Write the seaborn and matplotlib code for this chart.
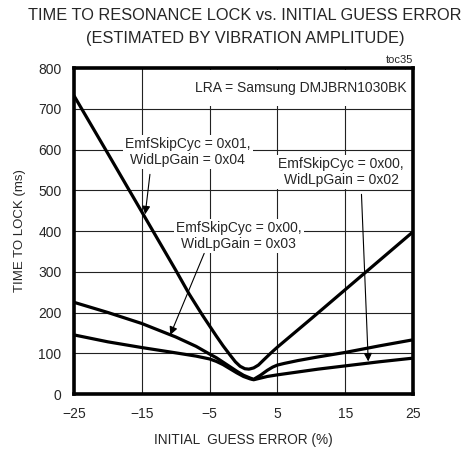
import numpy as np
import pandas as pd
import seaborn as sns
import matplotlib.pyplot as plt

# curve data (initial guess error %, time to lock ms)
x_g04 = [-25, -20, -15, -10, -8, -6, -4, -3, -2, -1.2, -0.5, 0.2, 0.8, 1.5, 2.2, 3, 4, 5, 10, 15, 20, 25]
y_g04 = [732, 590, 447, 304, 245, 192, 142, 118, 96, 79, 68, 62, 61, 64, 71, 84, 100, 115, 185, 256, 327, 398]

x_g03 = [-25, -20, -15, -10, -7, -5, -4, -3, -2, -1, 0, 1, 1.5, 2.5, 3.5, 4.3, 5, 6, 8, 11, 15, 20, 25]
y_g03 = [225, 200, 173, 140, 117, 98, 89, 78, 67, 56, 46, 39, 36, 46, 58, 66, 71, 75, 82, 91, 102, 118, 133]

x_g02 = [-25, -20, -15, -10, -7, -5, -4, -3, -2, -1, 0, 1, 1.5, 2.5, 3.5, 5, 8, 11, 15, 20, 25]
y_g02 = [145, 128, 114, 101, 93, 86, 80, 72, 62, 52, 43, 37, 35, 39, 43, 47, 54, 61, 69, 79, 88]

x_ticks = [-25, -15, -5, 5, 15, 25]
y_ticks = [0, 100, 200, 300, 400, 500, 600, 700, 800]

df = pd.concat([
    pd.DataFrame({'err': x_g04, 'time': y_g04, 'setting': 'g04'}),
    pd.DataFrame({'err': x_g03, 'time': y_g03, 'setting': 'g03'}),
    pd.DataFrame({'err': x_g02, 'time': y_g02, 'setting': 'g02'}),
])

sns.set_style('white')
plt.rcParams['font.family'] = ['Liberation Sans', 'DejaVu Sans']

fig = plt.figure(figsize=(4.76, 4.51), dpi=100)
ax = fig.add_axes([74 / 476, 1 - 394 / 451, 339 / 476, 326 / 451])

sns.lineplot(data=df, x='err', y='time', hue='setting', units='setting', estimator=None,
             sort=False, palette=['black'] * 3, legend=False, lw=2.3, ax=ax, zorder=4)

ax.set_xlim(-25, 25)
ax.set_ylim(0, 800)
ax.set_xticks(x_ticks)
ax.set_yticks(y_ticks)
ax.grid(True, color='#222222', lw=0.8, zorder=0)
ax.set_axisbelow(True)
ax.tick_params(length=0, labelsize=10, pad=9)
for s in ax.spines.values():
    s.set_linewidth(2.6)
    s.set_color('black')
    s.set_zorder(6)

ax.set_xlabel('INITIAL  GUESS ERROR (%)', fontsize=9.8, labelpad=9)
ax.set_ylabel('TIME TO LOCK (ms)', fontsize=9.5, labelpad=9)

fig.text(0.515, 1 - 15 / 451, 'TIME TO RESONANCE LOCK vs. INITIAL GUESS ERROR',
         ha='center', va='center', fontsize=11.8)
fig.text(0.515, 1 - 38 / 451, '(ESTIMATED BY VIBRATION AMPLITUDE)',
         ha='center', va='center', fontsize=11.8)

ax.text(25, 808, 'toc35', ha='right', va='bottom', fontsize=8)

box = dict(facecolor='white', edgecolor='none', pad=1.5)
ax.text(24.0, 751, 'LRA = Samsung DMJBRN1030BK', ha='right', va='center', fontsize=10,
        bbox=dict(facecolor='white', edgecolor='none', pad=8), zorder=3)

arrow = dict(arrowstyle='-|>', color='black', lw=0.8, mutation_scale=12, shrinkA=0, shrinkB=0)
ax.annotate('EmfSkipCyc = 0x01,\nWidLpGain = 0x04', xy=(-14.5, 441), xytext=(-8.2, 594),
            ha='center', va='center', fontsize=10, linespacing=1.15, bbox=box, zorder=3)
ax.annotate('', xy=(-14.5, 441), xytext=(-13.8, 539), arrowprops=arrow, zorder=5)

ax.annotate('EmfSkipCyc = 0x00,\nWidLpGain = 0x02', xy=(18.4, 80), xytext=(14.4, 544),
            ha='center', va='center', fontsize=10, linespacing=1.15, bbox=box, zorder=3)
ax.annotate('', xy=(18.4, 80), xytext=(17.4, 490), arrowprops=arrow, zorder=5)

ax.annotate('EmfSkipCyc = 0x00,\nWidLpGain = 0x03', xy=(-10.8, 145), xytext=(-0.7, 387),
            ha='center', va='center', fontsize=10, linespacing=1.15, bbox=box, zorder=3)
ax.annotate('', xy=(-10.8, 145), xytext=(-5.8, 345), arrowprops=arrow, zorder=5)

fig.savefig('out.png', dpi=100)
